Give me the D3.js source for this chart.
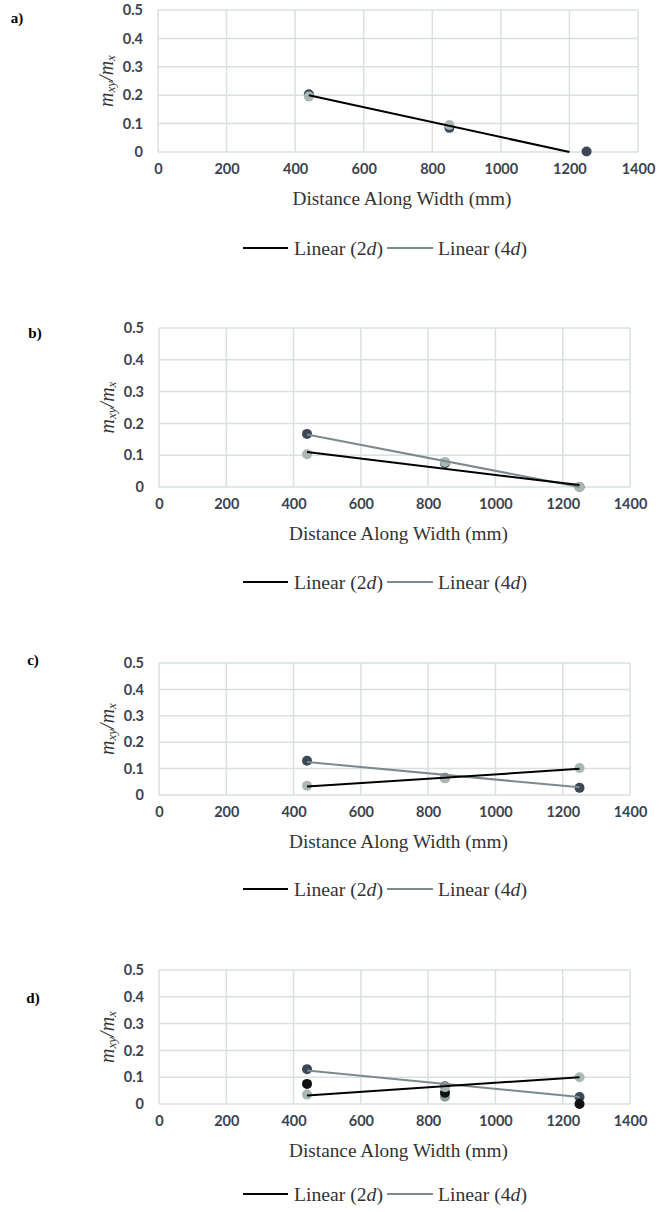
<!DOCTYPE html>
<html><head><meta charset="utf-8">
<script src="https://cdn.jsdelivr.net/npm/d3@7"></script>
<style>
html,body{margin:0;padding:0;background:#fff;}
svg{display:block;}
</style></head>
<body>
<svg id="chart" width="669" height="1212"></svg>
<script>
// ---- data ----
const panelLabels = ["a)", "b)", "c)", "d)"];
const xValues = [440, 850, 1250];
const xTicks = [0, 200, 400, 600, 800, 1000, 1200, 1400];
const yTicks = [0, 0.1, 0.2, 0.3, 0.4, 0.5];
// 2d series (light markers), 4d series (dark markers)
const series2d = [
  [0.195, 0.095, null],
  [0.103, 0.079, 0.0],
  [0.035, 0.063, 0.102],
  [0.035, 0.063, 0.1]
];
const series4d = [
  [0.203, 0.085, 0.002],
  [0.167, 0.075, 0.0],
  [0.13, 0.065, 0.027],
  [0.13, 0.066, 0.026]
];
// extra markers in panel d
const extraBlackD = [0.075, 0.042, 0.0];
const extraGrayD = [null, 0.027, null];
// trend line endpoints
const trend2dX = [[440, 1200], [440, 1250], [440, 1250], [440, 1250]];
const trend2dY = [[0.2, 0.0], [0.11, 0.006], [0.032, 0.099], [0.032, 0.1]];
const trend4dX = [null, [440, 1250], [440, 1250], [440, 1250]];
const trend4dY = [null, [0.165, 0.0], [0.125, 0.029], [0.125, 0.026]];
const legendNames = ["Linear (2", "Linear (4"];

// ---- layout ----
const layouts = [
  {left: 158, right: 638, top: 10,  bottom: 152, lx: 17, ly: 18,  legY: 248},
  {left: 159, right: 630, top: 328, bottom: 487, lx: 35, ly: 333, legY: 582},
  {left: 159, right: 630, top: 663, bottom: 795, lx: 33, ly: 660, legY: 889},
  {left: 159, right: 630, top: 970, bottom: 1104, lx: 33, ly: 998, legY: 1194}
];
const colLight = "#a9b8b4", colDark = "#3c4858", colGrayLine = "#7c8a8d", colGrid = "#d9e1df";
const svg = d3.select("#chart");

layouts.forEach((L, i) => {
  const x = d3.scaleLinear().domain([0, 1400]).range([L.left, L.right]);
  const y = d3.scaleLinear().domain([0, 0.5]).range([L.bottom, L.top]);
  const g = svg.append("g");

  // panel label
  g.append("text").attr("x", L.lx).attr("y", L.ly).attr("dy", "0.35em")
    .attr("text-anchor", "middle")
    .style("font-family", "Liberation Serif").style("font-weight", "bold").style("font-size", "15px")
    .text(panelLabels[i]);

  // grid
  g.selectAll(".hg").data(yTicks).join("line")
    .attr("x1", L.left).attr("x2", L.right)
    .attr("y1", d => y(d)).attr("y2", d => y(d))
    .attr("stroke", colGrid).attr("stroke-width", 1.5);
  g.selectAll(".vg").data(xTicks).join("line")
    .attr("y1", L.top).attr("y2", L.bottom)
    .attr("x1", d => x(d)).attr("x2", d => x(d))
    .attr("stroke", colGrid).attr("stroke-width", 1.5);

  // axes (labels only)
  const yAxis = d3.axisLeft(y).tickValues(yTicks).tickSize(0).tickPadding(15).tickFormat(d => d3.format("")(+d.toFixed(1)));
  const ya = g.append("g").attr("transform", `translate(${L.left},0)`).call(yAxis);
  ya.select(".domain").remove();
  const xAxis = d3.axisBottom(x).tickValues(xTicks).tickSize(0).tickPadding(12).tickFormat(d3.format("d"));
  const xa = g.append("g").attr("transform", `translate(0,${L.bottom})`).call(xAxis);
  xa.select(".domain").remove();
  [ya, xa].forEach(a => a.selectAll("text")
    .style("font-family", "Lato, 'Liberation Sans', sans-serif").style("font-weight", "bold")
    .style("font-size", "14.5px").attr("fill", "#3b4350"));

  // axis title
  g.append("text").attr("x", (L.left + L.right) / 2 + 4).attr("y", L.bottom + 46)
    .attr("text-anchor", "middle").attr("dy", "0.35em")
    .style("font-family", "Liberation Serif").style("font-size", "19.5px").attr("fill", "#333")
    .attr("textLength", 219).attr("lengthAdjust", "spacingAndGlyphs")
    .text("Distance Along Width (mm)");

  // y label
  const yl = g.append("text")
    .attr("transform", `translate(${L.left - 52},${(L.top + L.bottom) / 2}) rotate(-90)`)
    .attr("text-anchor", "middle").attr("dy", "0.35em")
    .style("font-family", "Liberation Serif").style("font-style", "italic").style("font-size", "20px")
    .attr("fill", "#333");
  yl.append("tspan").text("m");
  yl.append("tspan").attr("font-size", "13px").attr("dy", "2").text("xy");
  yl.append("tspan").attr("dy", "-2").text("/m");
  yl.append("tspan").attr("font-size", "13px").attr("dy", "2").text("x");

  // markers
  const pts = (vals, color) => g.append("g").selectAll("circle")
    .data(xValues.map((xv, k) => [xv, vals[k]]).filter(d => d[1] !== null))
    .join("circle").attr("cx", d => x(d[0])).attr("cy", d => y(d[1])).attr("r", 5).attr("fill", color);
  pts(series4d[i], colDark);
  if (i === 3) pts(extraGrayD, "#8d9c9a");
  if (i === 3) pts(extraBlackD, "#111");
  pts(series2d[i], colLight);

  // trend lines
  const line = d3.line().x(d => x(d[0])).y(d => y(d[1]));
  if (trend4dX[i]) g.append("path").datum(trend4dX[i].map((xv, k) => [xv, trend4dY[i][k]]))
    .attr("d", line).attr("stroke", colGrayLine).attr("stroke-width", 2).attr("fill", "none");
  g.append("path").datum(trend2dX[i].map((xv, k) => [xv, trend2dY[i][k]]))
    .attr("d", line).attr("stroke", "#000").attr("stroke-width", 2).attr("fill", "none");

  // legend
  const leg = g.append("g").attr("transform", `translate(0,${L.legY})`);
  const items = [{x1: 243, x2: 288, tx: 294, c: "#000", n: legendNames[0]},
                 {x1: 387, x2: 433, tx: 438, c: colGrayLine, n: legendNames[1]}];
  items.forEach(it => {
    leg.append("line").attr("x1", it.x1).attr("x2", it.x2).attr("y1", 0).attr("y2", 0)
      .attr("stroke", it.c).attr("stroke-width", 2);
    const t = leg.append("text").attr("x", it.tx).attr("dy", "0.35em")
      .style("font-family", "Liberation Serif").style("font-size", "19.5px").attr("fill", "#333")
      .attr("textLength", 89).attr("lengthAdjust", "spacingAndGlyphs");
    t.append("tspan").text(it.n);
    t.append("tspan").style("font-style", "italic").text("d");
    t.append("tspan").text(")");
  });
});
</script>
</body></html>
